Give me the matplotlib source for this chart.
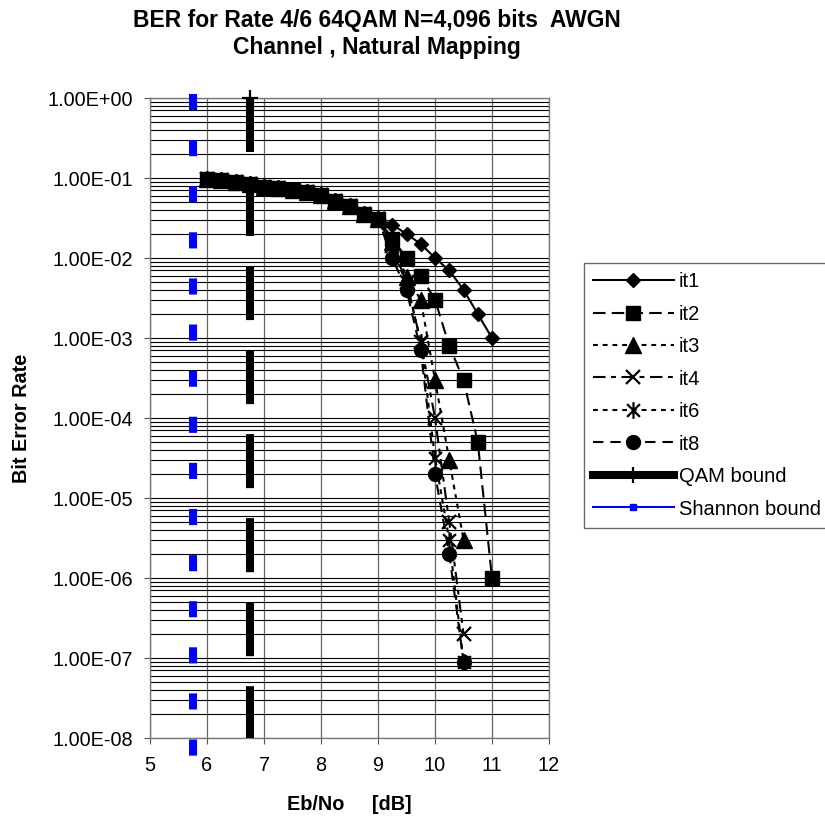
import matplotlib
matplotlib.use('Agg')
import matplotlib.pyplot as plt
from matplotlib.lines import Line2D
from matplotlib.path import Path
from matplotlib.ticker import LogLocator, FixedLocator, FuncFormatter, NullFormatter
import numpy as np

plt.rcParams['font.family'] = ['Liberation Sans', 'DejaVu Sans']
plt.rcParams['lines.scale_dashes'] = False

# shared low-SNR part (all iteration curves lie on top of each other here)
snr_low = [6.0, 6.25, 6.5, 6.75, 7.0, 7.25, 7.5, 7.75, 8.0, 8.25, 8.5, 8.75, 9.0]
ber_low = [0.098, 0.094, 0.089, 0.084, 0.078, 0.075, 0.071, 0.067, 0.061, 0.052, 0.045, 0.035, 0.031]

it1_x = [9.25, 9.5, 9.75, 10.0, 10.25, 10.5, 10.75, 11.0]
it1_y = [2.6e-2, 2.0e-2, 1.5e-2, 1.0e-2, 7.0e-3, 4.0e-3, 2.0e-3, 1.0e-3]

it2_x = [9.25, 9.5, 9.75, 10.0, 10.25, 10.5, 10.75, 11.0]
it2_y = [1.75e-2, 1.0e-2, 6.0e-3, 3.0e-3, 8.0e-4, 3.0e-4, 5.0e-5, 1.0e-6]

it3_x = [9.25, 9.5, 9.75, 10.0, 10.25, 10.5]
it3_y = [1.6e-2, 5.8e-3, 3.0e-3, 3.0e-4, 3.0e-5, 3.0e-6]

it4_x = [9.25, 9.5, 9.75, 10.0, 10.25, 10.5]
it4_y = [1.4e-2, 5.0e-3, 9.0e-4, 1.0e-4, 5.0e-6, 2.0e-7]

it6_x = [9.25, 9.5, 9.75, 10.0, 10.25, 10.5]
it6_y = [1.2e-2, 5.0e-3, 9.0e-4, 3.2e-5, 3.0e-6, 9.0e-8]

it8_x = [9.25, 9.5, 9.75, 10.0, 10.25, 10.5]
it8_y = [1.0e-2, 4.0e-3, 7.0e-4, 2.0e-5, 2.0e-6, 9.0e-8]

qam_x = [6.75, 6.75]
qam_y = [1.0, 1e-8]
shannon_x = [5.75, 5.75]
shannon_y = [1.0, 6e-9]

labels = ['it1', 'it2', 'it3', 'it4', 'it6', 'it8', 'QAM bound', 'Shannon bound']
y_ticks = [1e-8, 1e-7, 1e-6, 1e-5, 1e-4, 1e-3, 1e-2, 1e-1, 1.0]
x_ticks = [5, 6, 7, 8, 9, 10, 11, 12]

# Excel-like asterisk: an X with a vertical bar
star = Path([(-1, -1), (1, 1), (-1, 1), (1, -1), (0, -1.3), (0, 1.3)],
            [Path.MOVETO, Path.LINETO, Path.MOVETO, Path.LINETO, Path.MOVETO, Path.LINETO])

styles = [
    dict(marker='D', ms=7.5, ls='-'),
    dict(marker='s', ms=10.5, ls=(0, (9, 4.5))),
    dict(marker='^', ms=11, ls=(0, (3.5, 3.5))),
    dict(marker='x', ms=9.5, mew=1.6, ls=(0, (9, 4, 3.5, 4))),
    dict(marker=star, ms=12, mew=1.6, ls=(0, (3.5, 3.5))),
    dict(marker='o', ms=10, ls=(0, (7.5, 5))),
]

series = [(it1_x, it1_y), (it2_x, it2_y), (it3_x, it3_y),
          (it4_x, it4_y), (it6_x, it6_y), (it8_x, it8_y)]

fig = plt.figure(figsize=(8.25, 8.19), dpi=100)
ax = fig.add_axes([150/825, 81/819, 399/825, 640/819])

# bounds
ax.plot(shannon_x, shannon_y, color='#0000ff', lw=5.8, ls=(0, (5.8, 27.4)),
        dash_capstyle='projecting', clip_on=False, zorder=3)
ax.plot(qam_x, qam_y, color='black', lw=5.8, ls=(0, (38.9, 21.6)),
        dash_capstyle='butt', zorder=3)
ax.plot(qam_x[:1], qam_y[:1], marker='+', ms=11, mew=1.6, color='black',
        clip_on=False, zorder=4)

for (xs, ys), st in zip(series, styles):
    ax.plot(snr_low + xs, ber_low + ys, color='black', lw=1.5, mfc='black', mec='black',
            zorder=5, **st)

ax.set_yscale('log')
ax.set_xlim(5, 12)
ax.set_ylim(1e-8, 1)
ax.xaxis.set_major_locator(FixedLocator(x_ticks))
ax.yaxis.set_major_locator(FixedLocator(y_ticks))
ax.yaxis.set_minor_locator(LogLocator(base=10, subs=np.arange(2, 10), numticks=100))
ax.yaxis.set_major_formatter(FuncFormatter(lambda v, p: f'{v:.2E}'))
ax.yaxis.set_minor_formatter(NullFormatter())
ax.grid(True, which='both', axis='y', color='black', lw=0.8)
ax.grid(True, which='major', axis='x', color='#666666', lw=0.9)
ax.set_axisbelow(True)
ax.tick_params(axis='both', which='major', direction='out', length=4, width=0.8,
               labelsize=14.3, color='#555555')
ax.tick_params(axis='y', pad=8)
ax.tick_params(axis='x', pad=9)
ax.tick_params(axis='y', which='minor', length=0)
for s in ax.spines.values():
    s.set_color('#777777')
    s.set_linewidth(1)

ax.set_xlabel('Eb/No     [dB]', fontsize=14.3, fontweight='bold', labelpad=14)
ax.set_ylabel('Bit Error Rate', fontsize=14.3, fontweight='bold', labelpad=12)

fig.text(377/825, 1 - 34/819,
         'BER for Rate 4/6 64QAM N=4,096 bits  AWGN\nChannel , Natural Mapping',
         ha='center', va='center', fontsize=16.5, fontweight='bold', linespacing=1.2)

handles = []
for st in styles:
    handles.append(Line2D([], [], color='black', lw=1.5, mfc='black', mec='black', **st))
handles.append(Line2D([], [], color='black', lw=5.8, marker='+', ms=11, mew=1.6))
handles.append(Line2D([], [], color='#0000ff', lw=1.5, marker='s', ms=4))

leg = fig.legend(handles, labels, loc='upper left', bbox_to_anchor=(584/825, 1 - 263/819),
                 bbox_transform=fig.transFigure, frameon=True, fancybox=False,
                 edgecolor='#444444', fontsize=14.5, handlelength=4.0, handletextpad=0.25,
                 labelspacing=0.67, borderpad=0.45, borderaxespad=0, numpoints=1)
leg.get_frame().set_linewidth(1)

plt.savefig('out.png', dpi=100)
